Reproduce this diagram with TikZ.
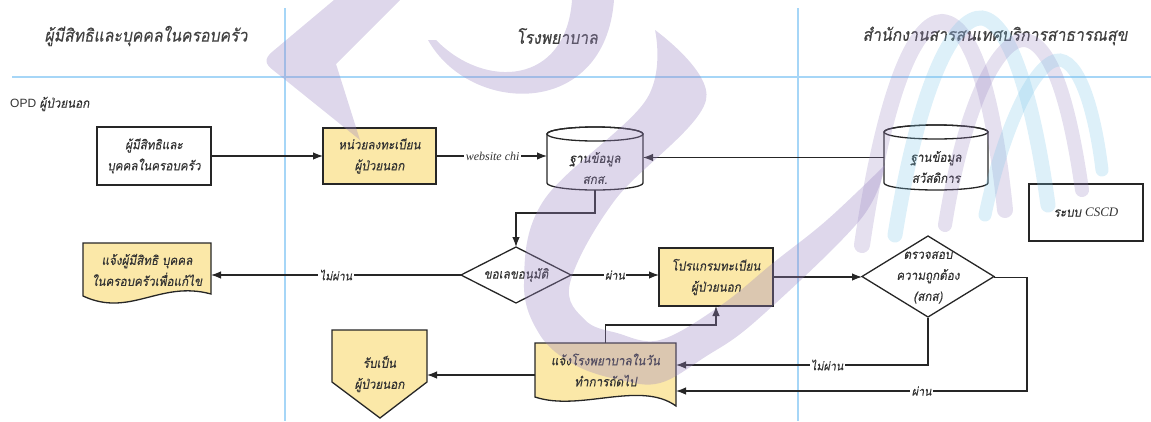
\documentclass[tikz,border=0pt]{standalone}
\usepackage{fontspec}
\usetikzlibrary{arrows.meta}
\newfontfamily\thaifont[Script=Thai,FakeSlant=0.18,FakeStretch=0.9,FakeBold=0.3]{Loma}
\newfontfamily\latinser{Liberation Serif}
\newfontfamily\opdfont{Liberation Sans}
\definecolor{laneblue}{HTML}{A6D6F7}
\definecolor{boxyellow}{HTML}{FBE8A8}
\definecolor{txtgray}{HTML}{333333}
\definecolor{headgray}{HTML}{404040}
\definecolor{wmpurple}{HTML}{9A86C2}
\definecolor{wmblue}{HTML}{7CC6E8}
\begin{document}
\begin{tikzpicture}[x=1pt,y=-1pt,
  lane/.style={draw=laneblue,line width=1.1pt},
  shp/.style={draw=black!85,line width=1.3pt},
  tx/.style={inner sep=0pt,outer sep=0pt,align=center,text=txtgray,
    font=\thaifont\fontsize{13}{21}\selectfont},
  procbox/.style={tx,shp,rectangle},
  headtxt/.style={inner sep=0pt,text=headgray,font=\thaifont\fontsize{17.5}{22}\selectfont},
  flow/.style={draw=black!85,line width=1.2pt,-{Latex[length=10pt,width=7.5pt]}},
  lbl/.style={fill=white,inner sep=1.5pt,text=txtgray,font=\thaifont\fontsize{12}{14}\selectfont},
]
\useasboundingbox (0,0) rectangle (1151,421);

% swim lanes
\draw[lane] (285,8) -- (285,421);
\draw[lane] (798,8) -- (798,421);
\draw[lane] (12,77) -- (1151,77);

% lane headings
\node[headtxt] (hfam)  at (146,36) {ผู้มีสิทธิและบุคคลในครอบครัว};
\node[headtxt] (hhosp) at (557,36) {โรงพยาบาล};
\node[headtxt] (hnhso) at (995,36) {สำนักงานสารสนเทศบริการสาธารณสุข};
\node[anchor=west,inner sep=0pt,text=txtgray] (opd) at (10,104)
  {{\opdfont\fontsize{12}{14}\selectfont OPD} {\thaifont\fontsize{13}{14}\selectfont ผู้ป่วยนอก}};

% outlines of the special shapes
\filldraw[shp,fill=boxyellow] (83,243) -- (211,243) -- (211,294)
  .. controls (160,280) and (130,318) .. (83,296) -- cycle;
\filldraw[shp,fill=boxyellow] (535,343) -- (676,343) -- (676,406)
  .. controls (640,380) and (580,412) .. (535,397) -- cycle;
\filldraw[shp,fill=boxyellow] (332,330) -- (427,330) -- (427,382) -- (380,418) -- (332,382) -- cycle;
\draw[shp] (461,275) -- (516,247) -- (571,275) -- (516,303) -- cycle;
\draw[shp] (862,276.5) -- (928,236) -- (994,276.5) -- (928,317) -- cycle;

% process boxes
\node[procbox,fill=white,minimum width=114pt,minimum height=58pt] (src) at (154,156)
  {ผู้มีสิทธิและ\\บุคคลในครอบครัว};
\node[procbox,fill=boxyellow,minimum width=113pt,minimum height=56pt] (reg) at (379.5,156)
  {หน่วยลงทะเบียน\\ผู้ป่วยนอก};
\node[procbox,fill=boxyellow,minimum width=114pt,minimum height=58pt] (prog) at (716,277)
  {โปรแกรมทะเบียน\\ผู้ป่วยนอก};
\node[procbox,fill=white,minimum width=114pt,minimum height=57pt] (cscd) at (1086,212.5)
  {ระบบ {\latinser\itshape CSCD}};

% databases
\node[tx,minimum width=96pt,minimum height=63pt] (db1) at (595,158.5) {};
\node[tx,minimum width=104pt,minimum height=65pt] (db2) at (936,157.5) {};
\draw[shp] ([yshift=-7pt]db1.north west) -- ([yshift=7pt]db1.south west)
  arc[start angle=180,end angle=360,x radius=48pt,y radius=7pt]
  -- ([yshift=-7pt]db1.north east)
  arc[start angle=0,end angle=180,x radius=48pt,y radius=7pt] -- cycle;
\draw[shp] ([yshift=-7pt]db1.north) ellipse[x radius=48pt,y radius=7pt];
\draw[shp] ([yshift=-7pt]db2.north west) -- ([yshift=7pt]db2.south west)
  arc[start angle=180,end angle=360,x radius=52pt,y radius=7pt]
  -- ([yshift=-7pt]db2.north east)
  arc[start angle=0,end angle=180,x radius=52pt,y radius=7pt] -- cycle;
\draw[shp] ([yshift=-7pt]db2.north) ellipse[x radius=52pt,y radius=7pt];
\node[tx] (db1t) at (595,168) {ฐานข้อมูล\\สกส.};
\node[tx] (db2t) at (936,167) {ฐานข้อมูล\\สวัสดิการ};

% decisions, documents, off-page connector
\node[tx,minimum width=110pt,minimum height=56pt] (d1) at (516,275) {ขอเลขอนุมัติ};
\node[tx,minimum width=132pt,minimum height=81pt] (d2) at (928,277.5) {ตรวจสอบ\\ความถูกต้อง\\(สกส)};
\node[tx,minimum width=128pt,minimum height=54pt] (doc1) at (147,270)
  {แจ้งผู้มีสิทธิ บุคคล\\ในครอบครัวเพื่อแก้ไข};
\node[tx,minimum width=141pt,minimum height=54pt] (doc2) at (605.5,370)
  {แจ้งโรงพยาบาลในวัน\\ทำการถัดไป};
\node[tx,minimum width=95pt,minimum height=88pt] (pent) at (379.5,374) {รับเป็น\\ผู้ป่วยนอก};

% connectors
\draw[flow] (src.east) -- (reg.west);
\draw[flow] (reg.east) -- node[lbl,pos=0.51]{\latinser\itshape website chi} (db1.west |- reg.east);
\draw[flow] (db2.west) -- (db1.east |- db2.west);
\draw[flow] (db1.south) -- ++(0,23) -| (d1.north);
\draw[flow] (d1.west) -- node[lbl,pos=0.5]{ไม่ผ่าน} (doc1.east |- d1.west);
\draw[flow] (d1.east) -- node[lbl,pos=0.5]{ผ่าน} (prog.west |- d1.east);
\draw[flow] (prog.east) -- (d2.west |- prog.east);
\draw[flow] (d2.south) |- node[lbl,pos=0.7]{ไม่ผ่าน} (doc2.east |- 0,365);
\coordinate (cturn) at (1027,391);
\draw[flow] (d2.east) -| (cturn) -- node[lbl,pos=0.3]{ผ่าน} (doc2.east |- cturn);
\draw[flow] (doc2.north) -- ++(0,-18) -| (prog.south);
\draw[flow] (doc2.west |- 0,375) -- (pent.east |- 0,375);

% translucent emblem in the background
\begin{scope}[opacity=0.33]
\fill[wmpurple] (334,0) -- (272,52) .. controls (264,59) and (265,64) .. (273,70)
  -- (360,140) -- (336,64) -- (400,0) -- cycle;
\fill[wmpurple] (428,40) .. controls (470,115) and (605,120) .. (614,0)
  -- (572,0) .. controls (566,85) and (485,90) .. (436,40) -- cycle;
\fill[wmpurple] plot[smooth,tension=0.6] coordinates {(655,30) (706,100) (615,200) (570,283)
  (585,320) (617,333) (660,340) (720,306) (773,263) (827,220) (885,165)}
  -- plot[smooth,tension=0.6] coordinates {(885,165) (860,220) (757,320) (705,357) (660,383)
  (620,380) (575,365) (540,335) (524,283) (544,200) (646,100) (655,30)} -- cycle;
\end{scope}
\begin{scope}[opacity=0.26,line cap=round]
\draw[wmpurple,line width=16pt] (862,245) .. controls (885,90) and (915,22) .. (942,22)
  .. controls (975,24) and (995,110) .. (1005,210);
\draw[wmblue,line width=15pt] (895,235) .. controls (920,80) and (955,16) .. (982,18)
  .. controls (1012,22) and (1035,110) .. (1048,205);
\draw[wmpurple,line width=14pt] (945,225) .. controls (965,100) and (1000,38) .. (1025,40)
  .. controls (1055,44) and (1072,120) .. (1082,190);
\draw[wmblue,line width=13pt] (985,215) .. controls (1005,120) and (1038,58) .. (1060,60)
  .. controls (1082,63) and (1096,120) .. (1102,170);
\end{scope}
\end{tikzpicture}
\end{document}
